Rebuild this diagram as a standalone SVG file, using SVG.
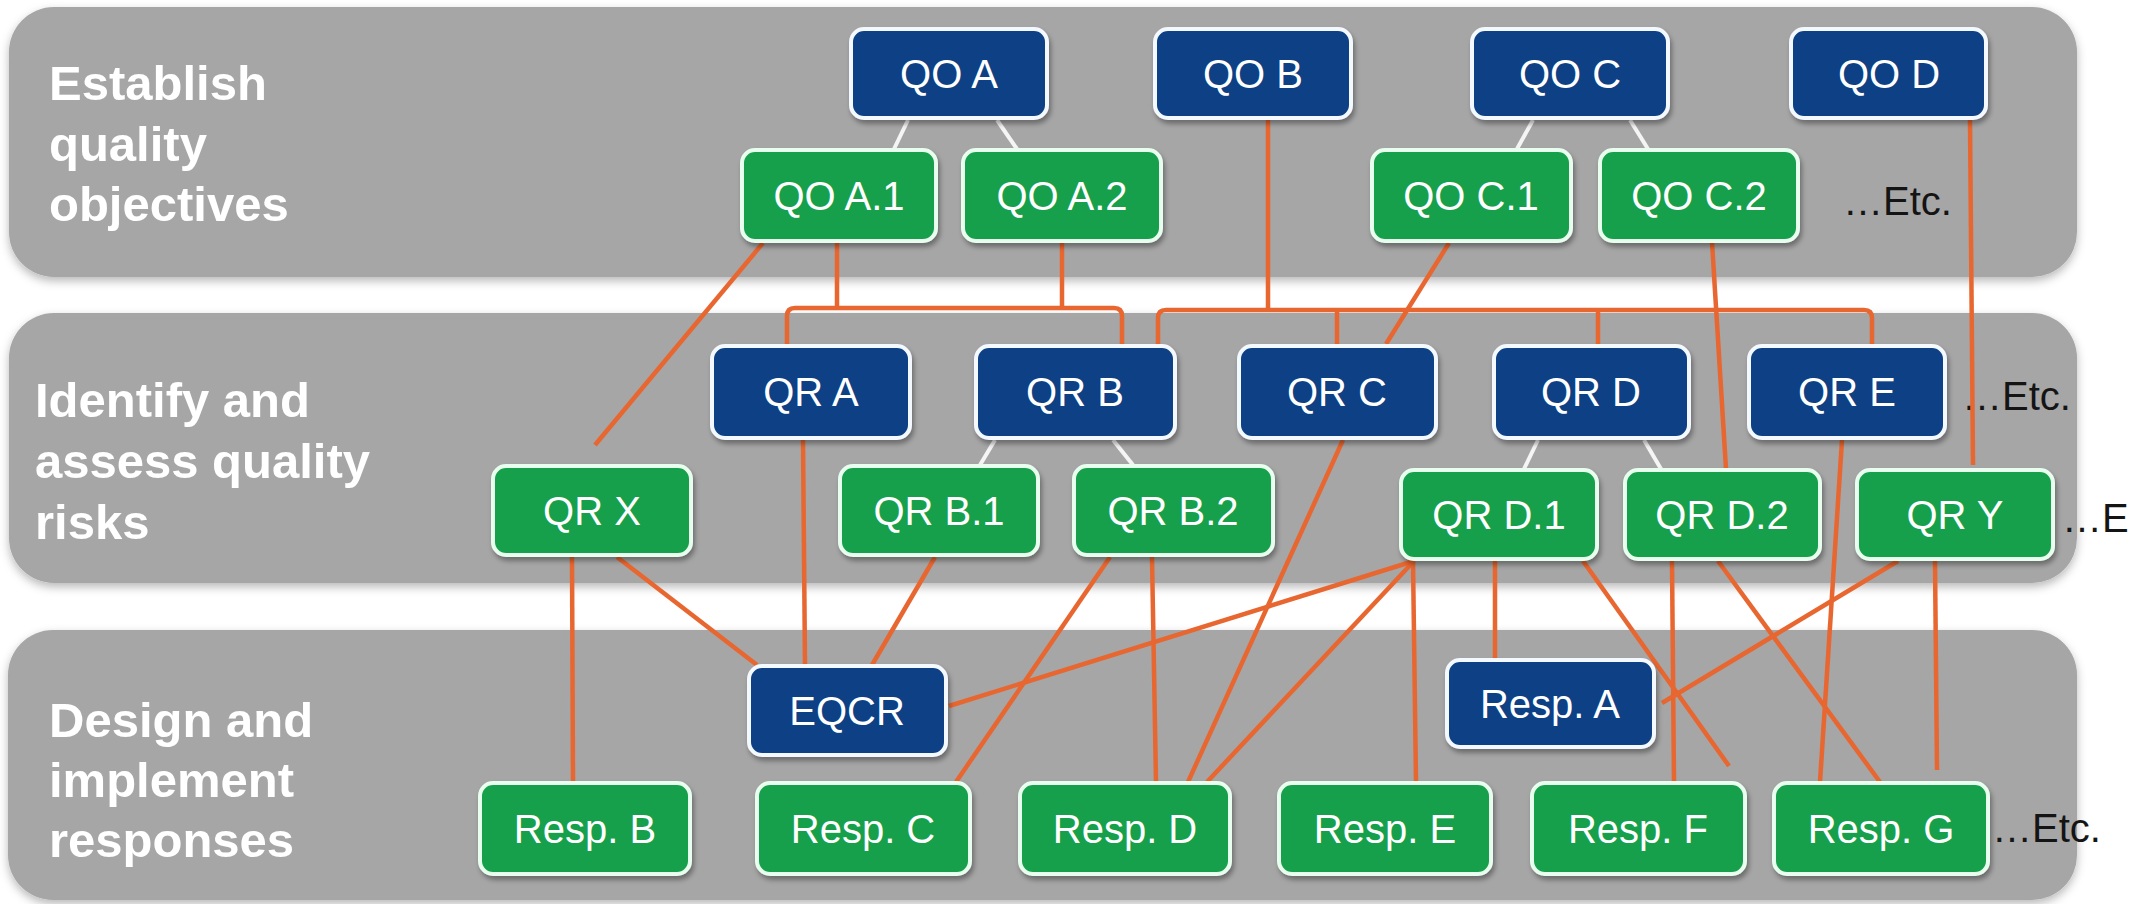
<svg xmlns="http://www.w3.org/2000/svg" width="2131" height="904" viewBox="0 0 2131 904">
  <defs>
    <filter id="bandShadow" x="-5%" y="-10%" width="110%" height="130%">
      <feDropShadow dx="0" dy="4" stdDeviation="5" flood-color="#000" flood-opacity="0.28"/>
    </filter>
    <filter id="boxShadow" x="-10%" y="-15%" width="125%" height="140%">
      <feDropShadow dx="2" dy="4" stdDeviation="2.5" flood-color="#000" flood-opacity="0.35"/>
    </filter>
    <style>
      .band { fill: #a6a6a6; filter: url(#bandShadow); }
      .label { font-family: "Liberation Sans", Arial, sans-serif; font-weight: bold; font-size: 49px; fill: #ffffff; }
      .etc { font-family: "Liberation Sans", Arial, sans-serif; font-size: 40px; fill: #141414; }
      .navy rect { fill: #0b4184; stroke: #f4f8ff; stroke-width: 4; filter: url(#boxShadow); }
      .green rect { fill: #19a04b; stroke: #e8fff0; stroke-width: 4; filter: url(#boxShadow); }
      .node text { font-family: "Liberation Sans", Arial, sans-serif; font-size: 40px; fill: #ffffff; text-anchor: middle; }
      .link { fill: none; stroke: #e8662f; stroke-width: 4.5; stroke-linecap: butt; stroke-linejoin: round; }
      .tree { fill: none; stroke: #f5f5f5; stroke-width: 4; }
    </style>
  </defs>

  <rect width="2131" height="904" fill="#ffffff"/>

  <!-- Swim-lane bands -->
  <g id="lanes">
    <g id="lane-objectives">
      <rect class="band" x="9" y="7" width="2068" height="270" rx="45"/>
      <text class="label" x="49" y="100">Establish</text>
      <text class="label" x="49" y="161">quality</text>
      <text class="label" x="49" y="221">objectives</text>
      <text class="etc" x="1843" y="215">…Etc.</text>
    </g>
    <g id="lane-risks">
      <rect class="band" x="9" y="313" width="2068" height="270" rx="45"/>
      <text class="label" x="35" y="417">Identify and</text>
      <text class="label" x="35" y="478">assess quality</text>
      <text class="label" x="35" y="539">risks</text>
      <text class="etc" x="1962" y="410">…Etc.</text>
      <text class="etc" x="2062" y="532">…E</text>
    </g>
    <g id="lane-responses">
      <rect class="band" x="8" y="630" width="2069" height="270" rx="45"/>
      <text class="label" x="49" y="737">Design and</text>
      <text class="label" x="49" y="797">implement</text>
      <text class="label" x="49" y="857">responses</text>
      <text class="etc" x="1992" y="842">…Etc.</text>
    </g>
  </g>

  <!-- Connectors -->
  <g id="connectors">
    <!-- hierarchy links (white) -->
    <g class="tree">
      <line x1="908" y1="120" x2="894" y2="149"/>
      <line x1="997" y1="120" x2="1017" y2="149"/>
      <line x1="1533" y1="120" x2="1517" y2="149"/>
      <line x1="1630" y1="120" x2="1648" y2="149"/>
      <line x1="995" y1="440" x2="980" y2="465"/>
      <line x1="1113" y1="440" x2="1133" y2="465"/>
      <line x1="1538" y1="440" x2="1524" y2="469"/>
      <line x1="1644" y1="440" x2="1661" y2="469"/>
    </g>
    <!-- objective to risk links -->
    <g class="link">
      <line x1="763" y1="243" x2="595" y2="445"/>
      <path d="M837,243 V308"/>
      <path d="M1062,243 V308"/>
      <path d="M787,345 V316 Q787,308 795,308 H1114 Q1122,308 1122,316 V344"/>
      <path d="M1268,120 V310"/>
      <path d="M1158,344 V318 Q1158,310 1166,310 H1864 Q1872,310 1872,318 V346"/>
      <path d="M1337,310 V344"/>
      <path d="M1598,310 V344"/>
      <line x1="1449" y1="243" x2="1386" y2="344"/>
      <line x1="1712" y1="242" x2="1726" y2="469"/>
      <line x1="1970" y1="120" x2="1973" y2="465"/>
    </g>
    <!-- risk to response links -->
    <g class="link">
      <line x1="572" y1="557" x2="573" y2="782"/>
      <line x1="617" y1="557" x2="757" y2="665"/>
      <line x1="803" y1="440" x2="805" y2="665"/>
      <line x1="935" y1="557" x2="872" y2="665"/>
      <line x1="949" y1="706" x2="1414" y2="561"/>
      <line x1="956" y1="782" x2="1110" y2="557"/>
      <line x1="1152" y1="557" x2="1156" y2="782"/>
      <line x1="1343" y1="440" x2="1188" y2="782"/>
      <line x1="1414" y1="561" x2="1207" y2="782"/>
      <line x1="1413" y1="561" x2="1416" y2="782"/>
      <line x1="1495" y1="561" x2="1495" y2="659"/>
      <line x1="1583" y1="561" x2="1729" y2="766"/>
      <line x1="1672" y1="561" x2="1674" y2="782"/>
      <line x1="1718" y1="561" x2="1880" y2="782"/>
      <line x1="1898" y1="561" x2="1662" y2="703"/>
      <line x1="1842" y1="440" x2="1820" y2="782"/>
      <line x1="1935" y1="561" x2="1937" y2="770"/>
    </g>
  </g>

  <!-- Quality objectives -->
  <g id="qo-a" class="node navy"><rect x="851" y="29" width="196" height="89" rx="13"/><text x="949" y="88">QO A</text></g>
  <g id="qo-b" class="node navy"><rect x="1155" y="29" width="196" height="89" rx="13"/><text x="1253" y="88">QO B</text></g>
  <g id="qo-c" class="node navy"><rect x="1472" y="29" width="196" height="89" rx="13"/><text x="1570" y="88">QO C</text></g>
  <g id="qo-d" class="node navy"><rect x="1791" y="29" width="195" height="89" rx="13"/><text x="1889" y="88">QO D</text></g>
  <g id="qo-a1" class="node green"><rect x="742" y="150" width="194" height="91" rx="13"/><text x="839" y="210">QO A.1</text></g>
  <g id="qo-a2" class="node green"><rect x="963" y="150" width="198" height="91" rx="13"/><text x="1062" y="210">QO A.2</text></g>
  <g id="qo-c1" class="node green"><rect x="1372" y="150" width="199" height="91" rx="13"/><text x="1471" y="210">QO C.1</text></g>
  <g id="qo-c2" class="node green"><rect x="1600" y="150" width="198" height="91" rx="13"/><text x="1699" y="210">QO C.2</text></g>

  <!-- Quality risks -->
  <g id="qr-a" class="node navy"><rect x="712" y="346" width="198" height="92" rx="13"/><text x="811" y="406">QR A</text></g>
  <g id="qr-b" class="node navy"><rect x="976" y="346" width="199" height="92" rx="13"/><text x="1075" y="406">QR B</text></g>
  <g id="qr-c" class="node navy"><rect x="1239" y="346" width="197" height="92" rx="13"/><text x="1337" y="406">QR C</text></g>
  <g id="qr-d" class="node navy"><rect x="1494" y="346" width="195" height="92" rx="13"/><text x="1591" y="406">QR D</text></g>
  <g id="qr-e" class="node navy"><rect x="1749" y="346" width="196" height="92" rx="13"/><text x="1847" y="406">QR E</text></g>
  <g id="qr-x" class="node green"><rect x="493" y="466" width="198" height="89" rx="13"/><text x="592" y="525">QR X</text></g>
  <g id="qr-b1" class="node green"><rect x="840" y="466" width="198" height="89" rx="13"/><text x="939" y="525">QR B.1</text></g>
  <g id="qr-b2" class="node green"><rect x="1074" y="466" width="199" height="89" rx="13"/><text x="1173" y="525">QR B.2</text></g>
  <g id="qr-d1" class="node green"><rect x="1401" y="470" width="196" height="89" rx="13"/><text x="1499" y="529">QR D.1</text></g>
  <g id="qr-d2" class="node green"><rect x="1625" y="470" width="195" height="89" rx="13"/><text x="1722" y="529">QR D.2</text></g>
  <g id="qr-y" class="node green"><rect x="1857" y="470" width="196" height="89" rx="13"/><text x="1955" y="529">QR Y</text></g>

  <!-- Responses -->
  <g id="eqcr" class="node navy"><rect x="749" y="666" width="197" height="89" rx="13"/><text x="847" y="725">EQCR</text></g>
  <g id="resp-a" class="node navy"><rect x="1447" y="660" width="207" height="87" rx="13"/><text x="1550" y="718">Resp. A</text></g>
  <g id="resp-b" class="node green"><rect x="480" y="783" width="210" height="91" rx="13"/><text x="585" y="843">Resp. B</text></g>
  <g id="resp-c" class="node green"><rect x="757" y="783" width="213" height="91" rx="13"/><text x="863" y="843">Resp. C</text></g>
  <g id="resp-d" class="node green"><rect x="1020" y="783" width="210" height="91" rx="13"/><text x="1125" y="843">Resp. D</text></g>
  <g id="resp-e" class="node green"><rect x="1279" y="783" width="212" height="91" rx="13"/><text x="1385" y="843">Resp. E</text></g>
  <g id="resp-f" class="node green"><rect x="1532" y="783" width="213" height="91" rx="13"/><text x="1638" y="843">Resp. F</text></g>
  <g id="resp-g" class="node green"><rect x="1774" y="783" width="214" height="91" rx="13"/><text x="1881" y="843">Resp. G</text></g>
</svg>
